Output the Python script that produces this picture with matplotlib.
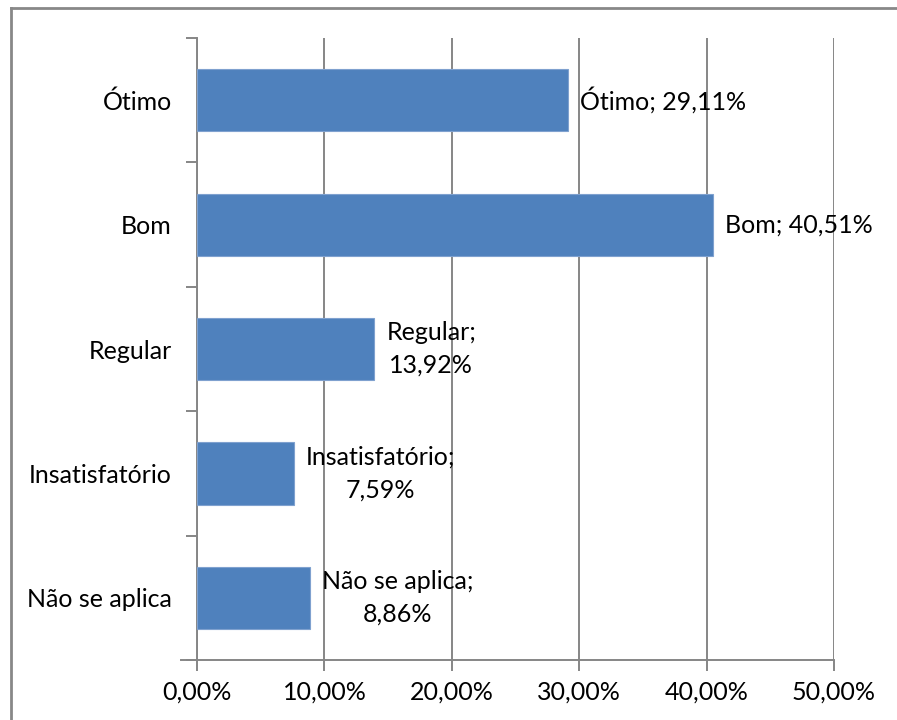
import matplotlib
matplotlib.use("Agg")
import matplotlib.pyplot as plt
from matplotlib.lines import Line2D

plt.rcParams['font.family'] = ['Lato', 'DejaVu Sans']

categorias = ['Ótimo', 'Bom', 'Regular', 'Insatisfatório', 'Não se aplica']
valores = [29.11, 40.51, 13.92, 7.59, 8.86]
rotulos = ['Ótimo; 29,11%', 'Bom; 40,51%', 'Regular;\n13,92%',
           'Insatisfatório;\n7,59%', 'Não se aplica;\n8,86%']
ticks_x = [0, 10, 20, 30, 40, 50]
ticks_x_txt = ['0,00%', '10,00%', '20,00%', '30,00%', '40,00%', '50,00%']

cor_barra = '#4F81BD'
cinza = '#868686'
fs = 18

fig = plt.figure(figsize=(8.97, 7.2), dpi=100)
ax = fig.add_axes([0.2196, 0.0833, 0.7102, 0.8639])

# categories top to bottom
ys = list(range(len(categorias)))[::-1]
ax.barh(ys, valores, height=0.5, color=cor_barra, edgecolor='#7FA1CF',
        linewidth=0.8, zorder=3)

for y, v, txt in zip(ys, valores, rotulos):
    ax.text(v + 0.95, y, txt, ha='left', va='center', multialignment='center',
            fontsize=fs, color='black', linespacing=1.5, zorder=4)

ax.set_xlim(0, 50)
ax.set_ylim(-0.5, len(categorias) - 0.5)

ax.set_xticks(ticks_x)
ax.set_xticklabels(ticks_x_txt, fontsize=fs)
ax.xaxis.grid(True, color=cinza, linewidth=1.4, zorder=0)

# ticks on category boundaries, labels at centres
ax.set_yticks([i - 0.5 for i in range(len(categorias) + 1)])
ax.set_yticklabels([])
ax.set_yticks(ys, minor=True)
ax.set_yticklabels(categorias, minor=True, fontsize=fs)
ax.tick_params(axis='y', which='minor', length=0, pad=18)
ax.tick_params(axis='y', which='major', length=8, width=1.4, color=cinza,
               direction='out')
ax.tick_params(axis='x', length=8, width=1.4, color=cinza, direction='out',
               pad=7)

for lado in ['top', 'right']:
    ax.spines[lado].set_visible(False)
for lado in ['left', 'bottom']:
    ax.spines[lado].set_color(cinza)
    ax.spines[lado].set_linewidth(1.4)
ax.spines['bottom'].set_bounds(-1.25, 50)

# outer chart frame: only top and left edges fall inside the image
x0, y0 = 11 / 897, 1 - 8 / 720
fig.lines.append(Line2D([x0, 1.0], [y0, y0], transform=fig.transFigure,
                        color='#888888', linewidth=2))
fig.lines.append(Line2D([x0, x0], [0.0, y0], transform=fig.transFigure,
                        color='#888888', linewidth=2))

fig.savefig('out.png', dpi=100)
